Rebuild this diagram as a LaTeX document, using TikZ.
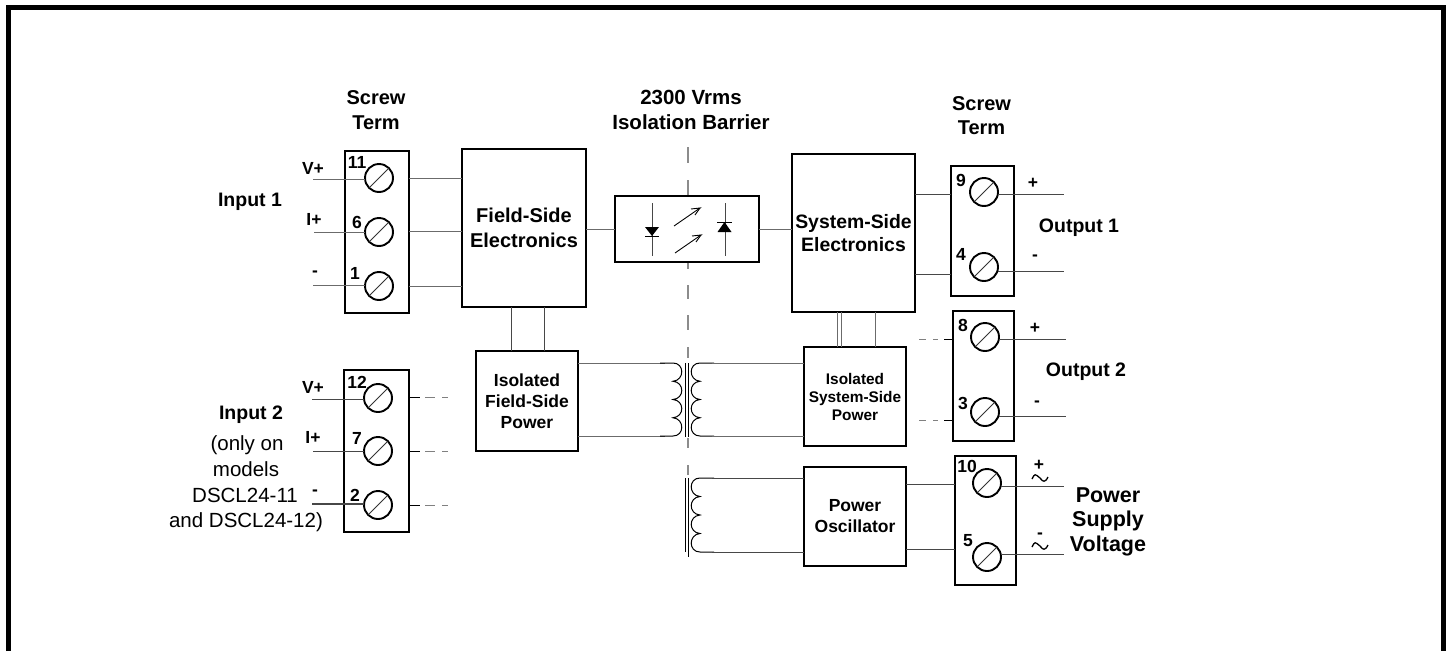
\documentclass[tikz,border=0pt]{standalone}
\usepackage{fontspec}
\setmainfont{Liberation Sans}
\usetikzlibrary{calc}
\newcommand{\bfs}{\bfseries\fontsize{20}{24.5}\selectfont}
\newcommand{\sse}{\bfseries\fontsize{19.4}{22.5}\selectfont}
\newcommand{\mds}{\bfseries\fontsize{17.5}{21}\selectfont}
\newcommand{\sms}{\bfseries\fontsize{15.4}{18}\selectfont}
\newcommand{\lrg}{\bfseries\fontsize{19.5}{22}\selectfont}
\tikzset{
  box/.style={draw=black,line width=2.2pt,fill=white,inner sep=0pt,outer sep=0pt,align=center},
  screw/.style={circle,draw=black,line width=1.9pt,fill=none,minimum size=28pt,inner sep=0pt,outer sep=0pt},
  wire/.style={draw=black!58,line width=1pt},
  darkwire/.style={draw=black!72,line width=1pt},
  dashwire/.style={draw=black!50,line width=1pt},
  blab/.style={inner sep=0pt,outer sep=0pt,align=center,font=\bfs},
  nlab/.style={inner sep=0pt,outer sep=0pt,font=\bfseries\fontsize{17.5}{20}\selectfont},
  rlab/.style={inner sep=0pt,outer sep=0pt,font=\fontsize{20.5}{24}\selectfont},
  slash/.style={draw=black!80,line width=0.9pt},
  coil/.style={draw=black,line width=1pt},
  barrier/.style={draw=black!45,line width=1.1pt}
}
% style, name, x1, y1, x2, y2, text
\newcommand{\bx}[7][]{\node[box,#1,minimum width={(#5)-(#3)},minimum height={(#6)-(#4)}] (#2) at ({((#3)+(#5))/2},{((#4)+(#6))/2}) {#7};}
% name, x, y, number label, nx, ny
\newcommand{\scr}[6]{\node[screw] (#1) at (#2,#3) {};
  \draw[slash] ($(#1)+(-9.5,9.5)$) -- ($(#1)+(9.5,-9.5)$);
  \node[nlab] (#1n) at (#5,#6) {#4};}
% tilde at x,y
\newcommand{\tld}[2]{\draw[black,line width=1.3pt] ($(#1,#2)+(-8,1)$) .. controls +(3,-6) and +(-5,-4) .. (#1,#2) .. controls +(3,4) and +(-3,6) .. ($(#1,#2)+(8,-1)$);}
% args: cusp x, bulge x, end x, y top, y bottom
\newcommand{\coilpath}[5]{%
  \pgfmathsetmacro{\dy}{((#5)-(#4))/4}%
  \pgfmathsetmacro{\ya}{(#4)+\dy}\pgfmathsetmacro{\yb}{(#4)+2*\dy}\pgfmathsetmacro{\yc}{(#4)+3*\dy}%
  \pgfmathsetmacro{\ctl}{(#2)+((#2)-(#1))*0.3}%
  \draw[coil] (#3,#4) -- (#1,#4) .. controls (\ctl,#4) and (\ctl,\ya-1) .. (#1,\ya)
   .. controls (\ctl,\ya+1) and (\ctl,\yb-1) .. (#1,\yb)
   .. controls (\ctl,\yb+1) and (\ctl,\yc-1) .. (#1,\yc)
   .. controls (\ctl,\yc+1) and (\ctl,#5) .. (#1,#5) -- (#3,#5);}
\begin{document}
\begin{tikzpicture}[x=1pt,y=-1pt]
\useasboundingbox (0,0) rectangle (1449,651);
\fill[white] (0,0) rectangle (1449,651);
% frame, open at the bottom
\draw[black,line width=5pt] (8.5,651) -- (8.5,7.5) -- (1443.5,7.5) -- (1443.5,651);

% isolation barrier
\foreach \ya/\yb in {147/163,180/196,257/269,285/299,315/330,347/358,438/448,465/475}{
  \draw[barrier] (688,\ya) -- (688,\yb);}

% boxes
\bx[font=\bfs]{fse}{462}{149}{586}{307}{Field-Side\\Electronics}
\bx[font=\mds]{ifp}{476}{351}{578}{451}{Isolated\\Field-Side\\Power}
\bx{opto}{615}{196}{759}{262}{}
\bx[font=\sse]{sse}{792}{154}{915}{312}{System-Side\\Electronics}
\bx[font=\sms]{isp}{804}{347}{906}{446}{Isolated\\System-Side\\Power}
\bx[font=\mds]{osc}{804}{467}{906}{566}{Power\\Oscillator}
\bx{tb1}{345}{151}{409}{313}{}
\bx{tb2}{344}{370}{409}{532}{}
\bx{tb3}{951}{166}{1014}{296}{}
\bx{tb4}{953}{311}{1014}{441}{}
\bx{tb5}{955}{456}{1016}{585}{}

% screws
\scr{s11}{379}{178}{11}{357}{162}
\scr{s6}{379}{232}{6}{357}{222}
\scr{s1}{379}{286}{1}{355}{273}
\scr{s12}{378}{398}{12}{357}{382}
\scr{s7}{378}{451}{7}{357}{438}
\scr{s2}{378}{505}{2}{355}{495}
\scr{s9}{984}{192}{9}{961}{180}
\scr{s4}{984}{267}{4}{961}{254}
\scr{s8}{985}{337}{8}{963}{325}
\scr{s3}{985}{412}{3}{963}{403}
\scr{s10}{987}{483}{10}{967}{466}
\scr{s5}{987}{557}{5}{968}{541}

% free wire ends
\coordinate (i11) at (313,179);
\coordinate (i6) at (314,232);
\coordinate (i1) at (313,285);
\coordinate (i12) at (312,399);
\coordinate (i7) at (313,451);
\coordinate (i2) at (312,504);
\coordinate (o9) at (1064,194);
\coordinate (o4) at (1064,271);
\coordinate (o8) at (1066,339);
\coordinate (o3) at (1066,416);
\coordinate (o10) at (1064,486);
\coordinate (o5) at (1064,554);

% input wires
\draw[wire] (i11) -- (s11.west |- i11);
\draw[wire] (i6) -- (s6.west);
\draw[wire] (i1) -- (s1.west |- i1);
\draw[darkwire] (i12) -- (s12.west |- i12);
\draw[darkwire] (i7) -- (s7.west);
\draw[darkwire,line width=1.5pt] (i2) -- (s2.west |- i2);
% terminal 1 to field electronics
\draw[wire] (tb1.east |- 0,178) -- (fse.west |- 0,178);
\draw[wire] (tb1.east |- 0,231) -- (fse.west |- 0,231);
\draw[wire] (tb1.east |- 0,286) -- (fse.west |- 0,286);
% field box to power
\draw[darkwire] (ifp.north -| 511,0) -- (fse.south -| 511,0);
\draw[darkwire] (ifp.north -| 544,0) -- (fse.south -| 544,0);
% opto
\draw[wire] (fse.east |- opto.west) -- (opto.west);
\draw[wire] (opto.east) -- (sse.west |- opto.east);
% system electronics
\draw[darkwire] (sse.east |- 0,194) -- (tb3.west |- 0,194);
\draw[darkwire] (sse.east |- 0,274) -- (tb3.west |- 0,274);
\draw[wire,line width=0.9pt] (sse.south -| 837,0) -- (isp.north -| 837,0);
\draw[wire,line width=0.9pt] (sse.south -| 841,0) -- (isp.north -| 841,0);
\draw[wire] (sse.south -| 875,0) -- (isp.north -| 875,0);
% outputs
\draw[darkwire] (s9.east |- o9) -- (o9);
\draw[darkwire] (s4.east |- o4) -- (o4);
\draw[darkwire] (s8.east |- o8) -- (o8);
\draw[darkwire] (s3.east |- o3) -- (o3);
\draw[darkwire] (s10.east |- o10) -- (o10);
\draw[darkwire] (s5.east |- o5) -- (o5);
% oscillator to terminal
\draw[darkwire] (osc.east |- 0,484) -- (tb5.west |- 0,484);
\draw[darkwire] (osc.east |- 0,549) -- (tb5.west |- 0,549);

% dashed stubs, input 2
\foreach \y in {397,451,505}{
  \draw[black,line width=1pt] (tb2.east |- 0,\y) -- (420,\y);
  \draw[dashwire] (425,\y) -- (435,\y);
  \draw[dashwire] (442,\y) -- (448,\y);}
% dashed stubs, output 2
\foreach \y in {339,420}{
  \draw[black,line width=1pt] (tb4.west |- 0,\y) -- (944,\y);
  \draw[dashwire] (919,\y) -- (926,\y);
  \draw[dashwire] (933,\y) -- (938,\y);}

% transformers
\draw[wire] (ifp.east |- 0,363) -- (665,363);
\draw[wire] (ifp.east |- 0,436) -- (665,436);
\coilpath{673}{682}{660}{363}{436}
\coilpath{700}{691}{714}{363}{436}
\draw[wire] (712,363) -- (isp.west |- 0,363);
\draw[wire] (712,436) -- (isp.west |- 0,436);
\draw[black,line width=0.9pt] (685,363) -- (685,437);
\draw[black,line width=0.9pt] (688.5,363) -- (688.5,437);
\coilpath{700}{691}{714}{478}{552}
\draw[darkwire] (712,478) -- (osc.west |- 0,478);
\draw[darkwire] (712,552) -- (osc.west |- 0,552);
\draw[black,line width=0.9pt] (685,478) -- (685,552);
\draw[black,line width=0.9pt] (688.5,478) -- (688.5,557);

% optocoupler symbols
\draw[darkwire] (652,203) -- (652,256);
\fill[black] (645,227) -- (659,227) -- (652,236) -- cycle;
\draw[black,line width=1pt] (645,236) -- (659,236);
\draw[darkwire] (725,203) -- (725,256);
\fill[black] (717.5,232) -- (731.5,232) -- (724.5,222) -- cycle;
\draw[black,line width=1pt] (717,222) -- (732,222);
\foreach \x/\y in {674/226,675/253}{
  \draw[black,line width=0.9pt] (\x,\y) -- ++(26,-18) -- ++(-9,1);
  \draw[black,line width=0.9pt] ({\x+26},{\y-18}) -- ++(-5,7);}

% labels
\node[blab] (st1) at (376,110) {Screw\\Term};
\node[blab,font=\bfseries\fontsize{20.5}{25}\selectfont] (bar) at (691,109.5) {2300 Vrms\\Isolation Barrier};
\node[blab] (st2) at (981.5,115.5) {Screw\\Term};
\node[blab,font=\lrg] (in1) at (250,202) {Input 1};
\node[blab,font=\lrg] (in2) at (251,415) {Input 2};
\node[rlab] (l1) at (247,445) {(only on};
\node[rlab] (l2) at (246,469) {models};
\node[rlab] (l3) at (245,495) {DSCL24-11};
\node[rlab] (l4) at (246,522) {and DSCL24-12)};
\node[blab,font=\lrg] (out1) at (1079,228) {Output 1};
\node[blab,font=\lrg] (out2) at (1086,372) {Output 2};
\node[blab,font=\bfseries\fontsize{21.5}{24.5}\selectfont] (psv) at (1108,521.5) {Power\\Supply\\Voltage};
\node[nlab] (v1) at (313,168) {V+};
\node[nlab] (i1l) at (314,219) {I+};
\node[nlab] (m1) at (315,274) {-};
\node[nlab] (v2) at (313,387) {V+};
\node[nlab] (i2l) at (313,437) {I+};
\node[nlab] (m2) at (315,493) {-};
\node[nlab] (p1) at (1033,183) {+};
\node[nlab] (n1) at (1035,258) {-};
\node[nlab] (p2) at (1035,328) {+};
\node[nlab] (n2) at (1037,404) {-};
\node[nlab] (p3) at (1039,465) {+};
\tld{1040}{478}
\node[nlab] (n3) at (1040,536) {-};
\tld{1040}{546}
\end{tikzpicture}
\end{document}
